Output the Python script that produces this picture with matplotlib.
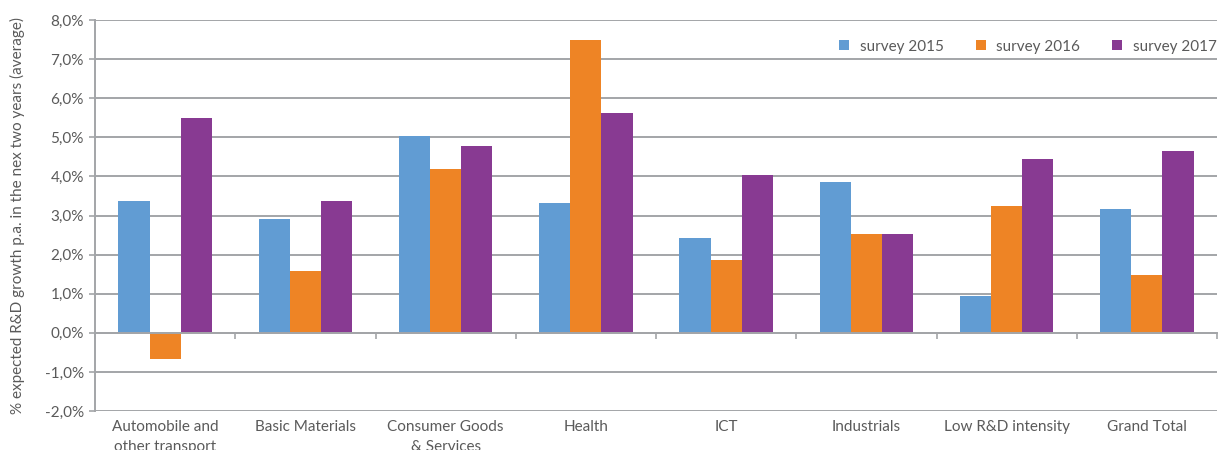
import matplotlib.pyplot as plt
import numpy as np

plt.rcParams['font.family'] = ['Lato', 'DejaVu Sans']

# values (% expected R&D growth)
categories = ["Automobile and\nother transport", "Basic Materials", "Consumer Goods\n& Services",
              "Health", "ICT", "Industrials", "Low R&D intensity", "Grand Total"]
survey_2015 = [3.36, 2.90, 5.03, 3.32, 2.42, 3.86, 0.94, 3.17]
survey_2016 = [-0.68, 1.58, 4.19, 7.48, 1.86, 2.53, 3.25, 1.47]
survey_2017 = [5.50, 3.36, 4.79, 5.63, 4.04, 2.53, 4.45, 4.64]
series_names = ["survey 2015", "survey 2016", "survey 2017"]
colors = ["#619CD3", "#EE8425", "#883A92"]

grey = "#A3A5A8"
txt = "#5A5A5A"

fig = plt.figure(figsize=(12.19, 4.5), dpi=100)
ax = fig.add_axes([95/1219, 1-411/450, 1122/1219, 391/450])

x = np.arange(len(categories))
w = 0.222
for k, vals in enumerate([survey_2015, survey_2016, survey_2017]):
    ax.bar(x + (k-1)*w, vals, width=w, color=colors[k], label=series_names[k], zorder=3)

ax.set_xlim(-0.5, len(categories)-0.5)
ax.set_ylim(-2, 8)
yt = np.arange(-2, 9, 1)
ax.set_yticks(yt)
ax.set_yticklabels([f"{v:.1f}%".replace('.', ',') for v in yt])
ax.yaxis.grid(True, color=grey, linewidth=1.4, zorder=0)

for s in ['top', 'right']:
    ax.spines[s].set_visible(False)
ax.spines['left'].set_color(grey)
ax.spines['left'].set_linewidth(1.4)
ax.spines['bottom'].set_position(('data', 0))
ax.spines['bottom'].set_color(grey)
ax.spines['bottom'].set_linewidth(1.4)
ax.spines['bottom'].set_zorder(4)

ax.set_xticks(x)
ax.set_xticklabels(categories, fontsize=11, color=txt, linespacing=1.55)
ax.set_xticks(np.arange(-0.5, len(categories), 1), minor=True)
ax.tick_params(axis='x', which='major', length=0, pad=63)
ax.tick_params(axis='x', which='minor', length=4, color=grey, width=1.2, direction='out')
ax.tick_params(axis='y', length=4, color=grey, width=1.2, labelsize=11, labelcolor=txt, pad=4)

ax.set_ylabel("% expected R&D growth p.a. in the nex two years (average)", fontsize=11, color=txt)
ax.yaxis.set_label_coords(-0.0625, 0.5)

leg = ax.legend(loc='upper right', bbox_to_anchor=(1.012, 0.985), ncol=3, frameon=False,
                fontsize=11, handlelength=0.65, handleheight=0.65, handletextpad=0.7,
                columnspacing=2.1, labelcolor=txt)

fig.savefig("out.png", dpi=100)
